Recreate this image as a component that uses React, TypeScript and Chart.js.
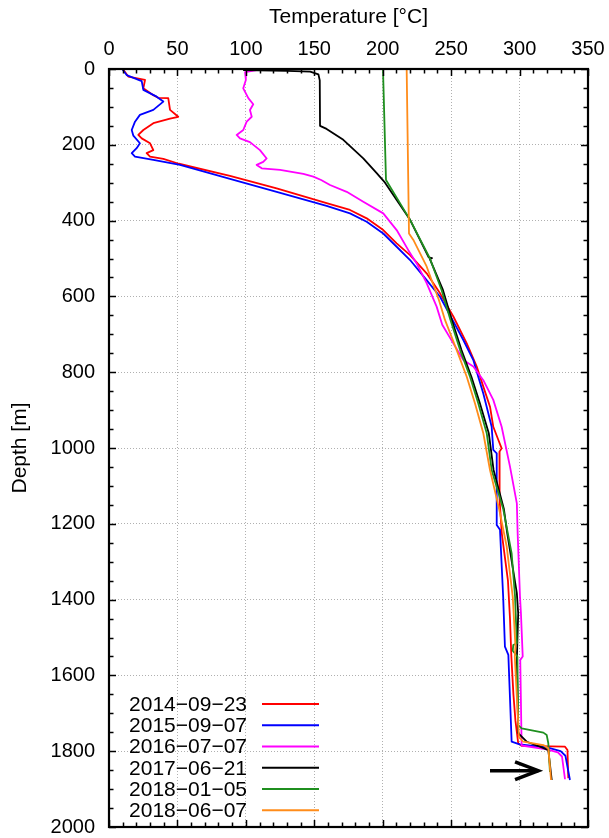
import React, { useEffect, useRef } from "react";
import { Chart, registerables } from "chart.js";

Chart.register(...registerables);

// ---------- data ----------
const seriesLabels = ["2014−09−23", "2015−09−07", "2016−07−07", "2017−06−21", "2018−01−05", "2018−06−07"];
const seriesColors = ["#ff0000", "#0000ff", "#ff00ff", "#000000", "#1f8f1f", "#ff8c1a"];

const depth2014 = [2, 20, 29, 51, 69, 76, 77, 108, 126, 131, 143, 161, 174, 183, 196, 214, 222, 231, 237, 250, 282, 315, 354, 372, 394, 425, 460, 491, 539, 592, 653, 724, 785, 838, 891, 944, 979, 1001, 1010, 1058, 1137, 1225, 1350, 1450, 1550, 1650, 1720, 1779, 1786, 1788, 1797, 1871];
const temp2014 = [10.5, 14.1, 26.3, 25.1, 32.4, 36, 43.3, 44.6, 50.6, 44.6, 32.4, 25.1, 21.4, 23.9, 30, 32.4, 27.5, 30, 39.7, 51, 88.4, 122.5, 159, 176.1, 188.3, 200.4, 210.2, 220, 232.1, 241.9, 251.6, 261.4, 268.7, 273.5, 278.4, 280.8, 284.5, 286.9, 285.3, 285.3, 285.5, 287, 291.5, 293, 294, 295.5, 297, 299, 301.5, 333.2, 335, 335.6];

const depth2015 = [2, 16, 32, 55, 73, 86, 108, 121, 139, 161, 176, 196, 209, 222, 231, 240, 253, 290, 324, 361, 381, 403, 434, 469, 504, 557, 601, 662, 715, 768, 812, 856, 909, 944, 1005, 1014, 1137, 1203, 1216, 1392, 1524, 1546, 1775, 1782, 1790, 1800, 1812, 1876];
const temp2015 = [10, 12.9, 23.9, 25.1, 34.8, 39.7, 32.4, 22.6, 19, 16.6, 17.8, 22.6, 20.2, 16.6, 19, 32.4, 51.9, 88.4, 122.5, 159, 176.1, 188.3, 200.4, 210.2, 220, 232.1, 241.9, 251, 258.9, 266.2, 269.8, 273.5, 277.2, 279.6, 280.8, 283.3, 283.3, 283.3, 285.7, 288, 289.3, 291.8, 294.2, 300, 320, 330, 333.5, 336.8];

const depth2016 = [2, 8, 29, 51, 77, 93, 108, 126, 139, 161, 174, 183, 193, 214, 236, 245, 253, 262, 266, 277, 284, 293, 306, 324, 350, 381, 425, 478, 513, 565, 627, 675, 724, 768, 785, 821, 873, 944, 1049, 1146, 1225, 1392, 1436, 1550, 1559, 1785, 1795, 1803, 1814, 1874];
const temp2016 = [109, 99.4, 100, 98.1, 101.8, 105.4, 103, 104.3, 100.6, 98.1, 93.3, 95.7, 103, 110.3, 115.2, 112.7, 107.9, 111.6, 125, 142, 149.3, 155, 161.5, 173.7, 185.8, 200.4, 210.2, 218.7, 224.8, 232.1, 239.4, 243.5, 251.6, 258.9, 266.2, 273.5, 280.8, 286.9, 293, 298, 298.6, 300.3, 301, 302.3, 300.5, 301.5, 320, 328, 331, 333.2];

const depth2017 = [3, 5, 7, 14, 30, 150, 158, 187, 236, 275, 300, 398, 497, 499, 501, 583, 662, 741, 812, 882, 961, 1058, 1160, 1225, 1383, 1436, 1559, 1752, 1775, 1788, 1797, 1876];
const temp2017 = [98, 130, 147, 153, 154, 154.2, 159, 171.2, 185.8, 195.6, 201.7, 220, 233.6, 236, 234.4, 244, 250.5, 257.5, 264.8, 271, 277.5, 281, 288.5, 291, 298, 299, 298, 299, 305.2, 314.9, 321, 323.5];

const depth2018a = [0, 293, 398, 500, 583, 662, 741, 812, 882, 961, 1058, 1160, 1278, 1392, 1515, 1520, 1535, 1550, 1731, 1740, 1751, 1757, 1779, 1855];
const temp2018a = [200.2, 202.4, 220, 234.5, 243, 249.5, 256.5, 263.8, 269.8, 276, 279.6, 288, 294.2, 296.7, 298, 295.4, 295, 298.4, 299, 301.5, 317.4, 319.8, 321, 322.2];

const depth2018b = [0, 434, 451, 521, 609, 662, 741, 812, 882, 961, 1058, 1160, 1260, 1392, 1524, 1550, 1762, 1775, 1784, 1792, 1876];
const temp2018b = [217.5, 219.2, 222.4, 232.1, 241, 245.5, 254, 261.4, 267.4, 273.5, 278.4, 285, 290.6, 295, 297, 296.5, 299.5, 302.7, 317.4, 321, 323];

const seriesDepths = [depth2014, depth2015, depth2016, depth2017, depth2018a, depth2018b];
const seriesTemps = [temp2014, temp2015, temp2016, temp2017, temp2018a, temp2018b];

const arrowShaftT = [278.4, 313.7];
const arrowShaftD = [1851.5, 1851.5];
const arrowHeadT = [296.7, 313.7, 296.7];
const arrowHeadD = [1828, 1851.5, 1875];

const xMin = 0, xMax = 350, xStep = 50, xMinorStep = 10;
const yMin = 0, yMax = 2000, yStep = 200, yMinorStep = 50;

const xTitle = "Temperature [°C]";
const yTitle = "Depth [m]";

const FONT = '"Liberation Sans", Arial, Helvetica, sans-serif';

const toPoints = (t: number[], d: number[]) => t.map((v, i) => ({ x: v, y: d[i] }));

const framePlugin = {
  id: "gnuFrame",
  afterDatasetsDraw(chart: any) {
    const { ctx, chartArea: a, scales } = chart;
    const xs = scales.x;
    const ys = scales.y;
    ctx.save();
    ctx.strokeStyle = "#000";
    ctx.lineWidth = 1.5;
    ctx.beginPath();
    for (let v = xMin; v <= xMax + 1e-6; v += xMinorStep) {
      const px = Math.round(xs.getPixelForValue(v)) + 0.5;
      const len = v % xStep === 0 ? 7 : 4.5;
      ctx.moveTo(px, a.top);
      ctx.lineTo(px, a.top + len);
      ctx.moveTo(px, a.bottom);
      ctx.lineTo(px, a.bottom - len);
    }
    for (let v = yMin; v <= yMax + 1e-6; v += yMinorStep) {
      const py = Math.round(ys.getPixelForValue(v)) + 0.5;
      const len = v % yStep === 0 ? 7 : 4.5;
      ctx.moveTo(a.left, py);
      ctx.lineTo(a.left + len, py);
      ctx.moveTo(a.right, py);
      ctx.lineTo(a.right - len, py);
    }
    ctx.stroke();
    ctx.lineWidth = 2.2;
    ctx.strokeRect(a.left, a.top, a.right - a.left, a.bottom - a.top);

    // legend (gnuplot style: right-aligned text then line sample)
    const textRight = a.left + 138;
    const lineX0 = a.left + 153;
    const lineX1 = a.left + 210;
    const rowH = 21.27;
    const y0 = a.bottom - 123;
    ctx.font = `21px ${FONT}`;
    ctx.textAlign = "right";
    ctx.textBaseline = "middle";
    let row = 0;
    chart.data.datasets.forEach((ds: any) => {
      if (!ds.label) return;
      const y = y0 + row * rowH;
      ctx.fillStyle = "#000";
      ctx.fillText(ds.label, textRight, y + 1);
      ctx.strokeStyle = ds.borderColor;
      ctx.lineWidth = 2;
      ctx.beginPath();
      ctx.moveTo(lineX0, y);
      ctx.lineTo(lineX1, y);
      ctx.stroke();
      row++;
    });
    ctx.restore();
  },
};

export default function App() {
  const canvasRef = useRef<HTMLCanvasElement | null>(null);

  useEffect(() => {
    document.body.style.margin = "0";
    const canvas = canvasRef.current;
    if (!canvas) return;

    const datasets: any[] = seriesLabels.map((label, i) => ({
      label,
      data: toPoints(seriesTemps[i], seriesDepths[i]),
      borderColor: seriesColors[i],
      backgroundColor: seriesColors[i],
      borderWidth: 1.8,
      pointRadius: 0,
      showLine: true,
      tension: 0,
      borderJoinStyle: "round",
      order: seriesLabels.length - i + 1,
    }));
    datasets.push({
      label: "",
      data: toPoints(arrowShaftT, arrowShaftD),
      borderColor: "#000",
      borderWidth: 3.5,
      pointRadius: 0,
      showLine: true,
      borderCapStyle: "butt",
      order: 0,
    });
    datasets.push({
      label: "",
      data: toPoints(arrowHeadT, arrowHeadD),
      borderColor: "#000",
      borderWidth: 3.5,
      pointRadius: 0,
      showLine: true,
      borderJoinStyle: "miter",
      order: 0,
    });

    const chart = new Chart(canvas, {
      type: "scatter",
      data: { datasets },
      plugins: [framePlugin],
      options: {
        animation: false,
        responsive: false,
        maintainAspectRatio: false,
        layout: { padding: { top: 0, left: 0, right: 21, bottom: 11 } },
        plugins: {
          legend: { display: false },
          tooltip: { enabled: false },
        },
        scales: {
          x: {
            type: "linear",
            position: "top",
            min: xMin,
            max: xMax,
            ticks: {
              stepSize: xStep,
              color: "#000",
              font: { family: FONT, size: 20 },
              padding: 8,
              maxRotation: 0,
              autoSkip: false,
              callback: (v: any) => String(v),
            },
            grid: {
              color: (c: any) => (c.tick && (c.tick.value === xMin || c.tick.value === xMax) ? "rgba(0,0,0,0)" : "#b0b0b0"),
              lineWidth: 1,
              drawTicks: false,
            },
            border: { display: false, dash: [1, 2] },
            title: {
              display: true,
              text: xTitle,
              color: "#000",
              font: { family: FONT, size: 21 },
              padding: { top: 4.5, bottom: 0 },
            },
            afterFit: (s: any) => {
              s.height = 69;
              s.paddingLeft = 0;
              s.paddingRight = 0;
            },
          },
          y: {
            type: "linear",
            position: "left",
            reverse: true,
            min: yMin,
            max: yMax,
            ticks: {
              stepSize: yStep,
              color: "#000",
              font: { family: FONT, size: 20 },
              padding: 14,
              autoSkip: false,
              callback: (v: any) => String(v),
            },
            grid: {
              color: (c: any) => (c.tick && (c.tick.value === yMin || c.tick.value === yMax) ? "rgba(0,0,0,0)" : "#b0b0b0"),
              lineWidth: 1,
              drawTicks: false,
            },
            border: { display: false, dash: [1, 2] },
            title: {
              display: true,
              text: yTitle,
              color: "#000",
              font: { family: FONT, size: 21 },
              padding: { top: 8, bottom: 0 },
            },
            afterFit: (s: any) => {
              s.width = 109;
              s.paddingTop = 0;
              s.paddingBottom = 0;
            },
          },
        },
      } as any,
    });

    return () => {
      chart.destroy();
    };
  }, []);

  return (
    <div style={{ position: "absolute", left: 0, top: 0, width: 609, height: 838, background: "#fff" }}>
      <canvas ref={canvasRef} width={609} height={838} style={{ display: "block" }} />
    </div>
  );
}
